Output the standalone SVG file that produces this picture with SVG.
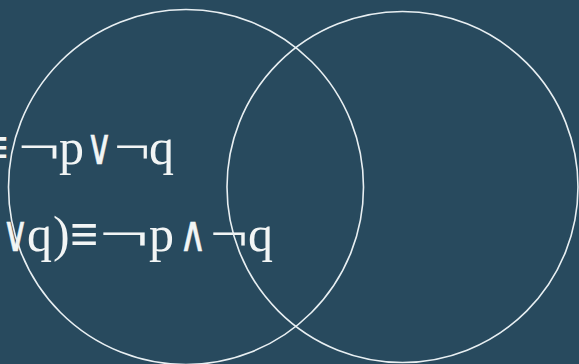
<svg xmlns="http://www.w3.org/2000/svg" width="579" height="364" viewBox="0 0 579 364">
<style>
.t{font-family:"Liberation Serif","DejaVu Serif",serif;font-size:50px;fill:#f2f5f5}
.s{font-family:"DejaVu Sans",sans-serif;font-weight:200}
.o{font-family:"DejaVu Sans",sans-serif;font-weight:200;stroke:#f2f5f5;stroke-width:0.5}
.c{fill:none;stroke:#e8eff2;stroke-width:1.6}
</style>
<rect width="579" height="364" fill="#284a5e"/>
<g id="formulas">
<text class="t" y="164"><tspan class="s" x="-16" textLength="24" lengthAdjust="spacingAndGlyphs">≡</tspan><tspan x="18" textLength="42" lengthAdjust="spacingAndGlyphs">¬</tspan><tspan x="59">p</tspan><tspan class="o" x="86" textLength="27" lengthAdjust="spacingAndGlyphs">∨</tspan><tspan x="114" textLength="36" lengthAdjust="spacingAndGlyphs">¬</tspan><tspan x="149">q</tspan></text>
<text class="t" y="251"><tspan class="o" x="2" textLength="27" lengthAdjust="spacingAndGlyphs">∨</tspan><tspan x="27">q</tspan><tspan x="53">)</tspan><tspan class="s" x="70" textLength="28" lengthAdjust="spacingAndGlyphs">≡</tspan><tspan x="99" textLength="50" lengthAdjust="spacingAndGlyphs">¬</tspan><tspan x="149">p</tspan><tspan class="o" x="179" textLength="28" lengthAdjust="spacingAndGlyphs">∧</tspan><tspan x="210" textLength="38" lengthAdjust="spacingAndGlyphs">¬</tspan><tspan x="248">q</tspan></text>
</g>
<g id="circles">
<circle id="circleP" class="c" cx="186" cy="187" r="177.5"/>
<circle id="circleQ" class="c" cx="402.5" cy="187" r="175.5"/>
</g>
</svg>
